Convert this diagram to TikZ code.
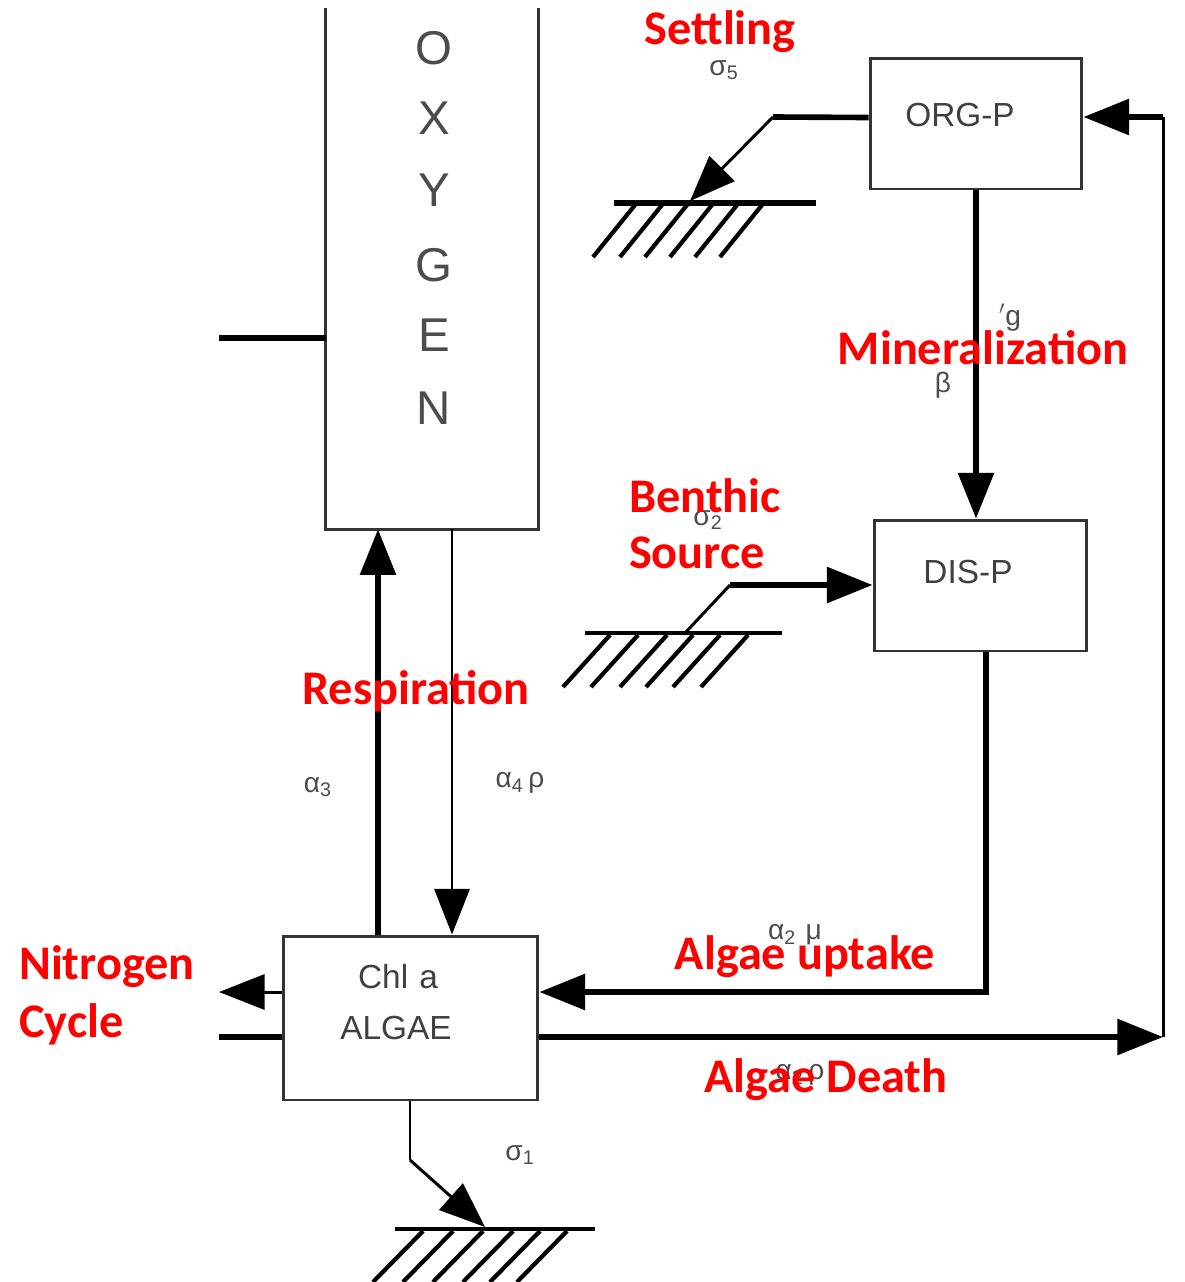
\documentclass[tikz,border=0pt]{standalone}
\usepackage{fontspec}
\setmainfont{Liberation Sans}
\newfontfamily\lab{Carlito}
\usetikzlibrary{arrows.meta,calc}
\begin{document}
\begin{tikzpicture}[x=0.02cm,y=-0.02cm,
  box/.style={draw=black!80,line width=1.7pt,inner sep=0pt},
  thk/.style={line width=3.2pt},
  thn/.style={line width=1.7pt},
  tip/.style={-{Triangle[length=26pt,width=20pt]}},
  rl/.style={text=red,font=\lab\bfseries\fontsize{27.5}{31}\selectfont},
  bt/.style={text=black!75,font=\fontsize{19}{22}\selectfont},
  ox/.style={text=black!70,font=\fontsize{27}{30}\selectfont},
  gk/.style={text=black!70,font=\fontsize{16}{18}\selectfont},
  bedline/.style={line width=2.6pt},
  hatchline/.style={line width=2.4pt}]
\useasboundingbox (0,0) rectangle (1184,1282);

% boxes
\node[minimum width=4.24cm,minimum height=10.42cm,inner sep=0pt] (oxy) at (432,268.5) {};
\draw[black!80,line width=1.7pt] (oxy.north west) -- (oxy.south west) -- (oxy.south east) -- (oxy.north east);
\node[box,minimum width=4.24cm,minimum height=2.62cm] (orgp) at (976,123.5) {};
\node[box,minimum width=4.26cm,minimum height=2.62cm] (disp) at (980.5,585.5) {};
\node[box,minimum width=5.1cm,minimum height=3.28cm] (algae) at (410.5,1018) {};

% box texts
\foreach \l/\yy [count=\i] in {O/48,X/118,Y/190,G/265,E/335,N/408}
  \node[ox] (oxl\i) at (434,\yy) {\l};
\node[bt] (orgpt) at (960,115) {ORG-P};
\node[bt] (dispt) at (968,572) {DIS-P};
\node[bt] (chla) at (398,977) {Chl\,\,a};
\node[bt] (algt) at (396,1028) {ALGAE};

% coordinates
\coordinate (s1) at (773,117);
\coordinate (s2) at (690,201);
\coordinate (b0) at (685,633);
\coordinate (b1) at (730,585);
\coordinate (u1) at (986,992);
\coordinate (r1) at (378,0);
\coordinate (r2) at (452,0);
\coordinate (n1) at (219,992);
\coordinate (n2) at (219,1037);
\coordinate (d1) at (1163,1037);
\coordinate (d2) at (1163,117);
\coordinate (g1) at (410,1160);
\coordinate (g2) at (485,1227);
\coordinate (o1) at (219,338);

% connectors
\draw[thk] ($(orgp.west)+(0,-6)$) -- (s1);
\draw[thn,tip] (s1) -- (s2);
\draw[thk,tip] (orgp.south) -- (orgp.south |- disp.north);
\draw[thn] (b0) -- (b1);
\draw[thk,tip] (b1) -- (b1 -| disp.west);
\draw[thk,tip] (disp.south -| u1) -- (u1) -- (u1 -| algae.east);
\draw[thk,tip] (r1 |- algae.north) -- (r1 |- oxy.south);
\draw[thn,tip] (r2 |- oxy.south) -- (r2 |- algae.north);
\draw[thn,tip] (n1 -| algae.west) -- (n1);
\draw[thk] (n2) -- (n2 -| algae.west);
\draw[thk,tip] (d1 -| algae.east) -- (d1);
\draw[thn] (d1) -- (d2);
\draw[thk,tip] (d2) -- (d2 -| orgp.east);
\draw[thn] (g1 |- algae.south) -- (g1);
\draw[thn,tip] (g1) -- (g2);
\draw[thk] (o1) -- (o1 -| oxy.west);

% sediment beds
\draw[bedline,line width=3.4pt] (614,203) -- (816,203);
\foreach \x in {635,662,687,712,737,762} \draw[hatchline] (\x,205) -- (\x-42,257);
\draw[bedline] (585,633) -- (782,633);
\foreach \x in {610,638,667,693,720,748} \draw[hatchline] (\x,635) -- (\x-47,687);
\draw[bedline] (395,1229) -- (595,1229);
\foreach \x in {423,453,483,513,540,567} \draw[hatchline] (\x,1231) -- (\x-50,1282);

% rate labels
\node[gk] (sig5) at (724,70) {σ\textsubscript{5}};
\node[gk] (bet4) at (943,385) {β};
\node[gk] (gmark) at (1010,318) {$'$g};
\node[gk] (sig2) at (708,520) {σ\textsubscript{2}};
\node[gk] (al3) at (318,787) {α\textsubscript{3}};
\node[gk] (al4) at (520,783) {α\textsubscript{4}\,ρ};
\node[gk] (al2m) at (795,935) {α\textsubscript{2}\,\,μ};
\node[gk] (al2r) at (800,1075) {α\textsubscript{2}\,ρ};
\node[gk] (sig1) at (520,1155) {σ\textsubscript{1}};

% red labels
\node[rl] (settl) at (720,32) {Settling};
\node[rl] (minl) at (983,348) {Mineralization};
\node[rl] (benl) at (705,496) {Benthic};
\node[rl] (srcl) at (697,553) {Source};
\node[rl] (resl) at (416,691) {Respiration};
\node[rl,anchor=west] (nitl) at (13,967) {Nitrogen};
\node[rl,anchor=west] (cycl) at (13,1024) {Cycle};
\node[rl] (upl) at (805,957) {Algae uptake};
\node[rl] (deal) at (826,1080) {Algae Death};
\end{tikzpicture}
\end{document}
